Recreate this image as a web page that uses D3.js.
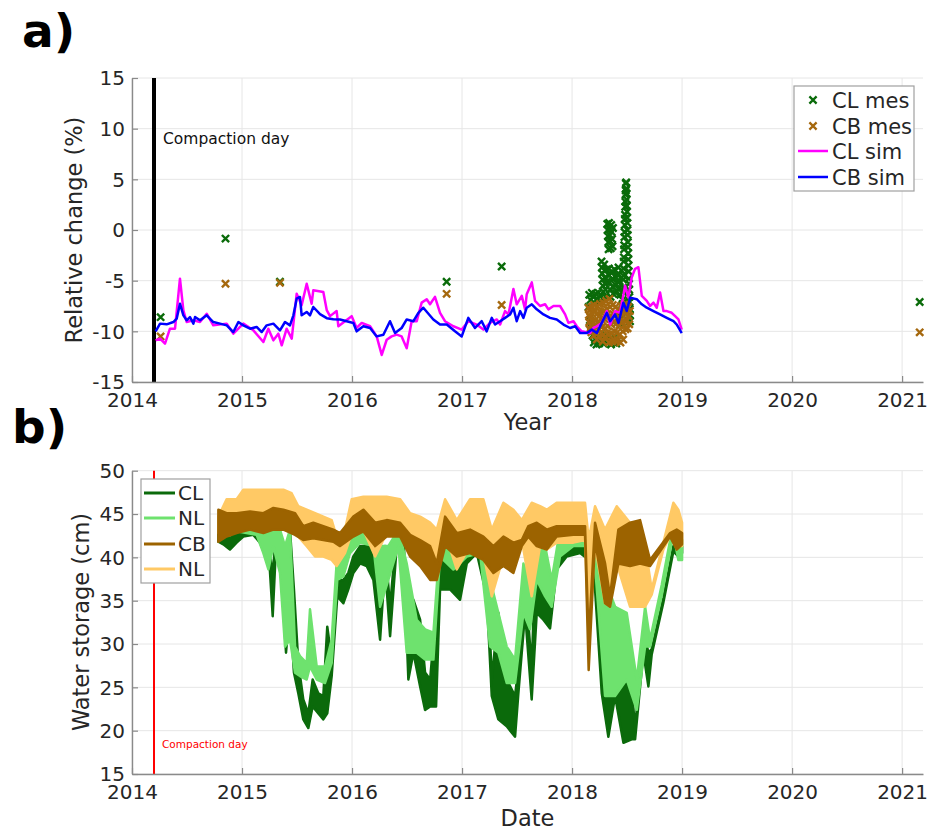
<!DOCTYPE html>
<html><head><meta charset="utf-8">
<script src="https://cdn.jsdelivr.net/npm/d3@7"></script>
<style>
body{margin:0;background:#fff}
svg{display:block}
text{font-family:"DejaVu Sans",Verdana,sans-serif}
</style>
</head><body>
<svg id="c" width="940" height="831"></svg>
<script>
// ---------------- DATA ----------------
const yearTicks = [2014,2015,2016,2017,2018,2019,2020,2021];
const relTicks = [-15,-10,-5,0,5,10,15];
const wsTicks = [15,20,25,30,35,40,45,50];
const compactionDate = 2014.2;

// panel a: measured relative change (campaigns)
const clMes = [[2014.26,-8.6],[2014.85,-0.85],[2015.345,-5.1],[2016.86,-5.1],[2017.36,-3.6],[2021.16,-7.1]];
const cbMes = [[2014.26,-10.5],[2014.85,-5.3],[2015.345,-5.2],[2016.86,-6.3],[2017.36,-7.4],[2021.16,-10.1]];

// panel a: measured relative change, continuous 2018 record
const clMes2018 = [
[2018.150,-7.6],[2018.156,-6.4],[2018.162,-8.9],[2018.168,-6.9],[2018.174,-9.6],
[2018.180,-6.2],[2018.186,-10.4],[2018.192,-6.6],[2018.198,-11.1],[2018.204,-7.2],
[2018.210,-10.8],[2018.216,-6.3],[2018.222,-11.3],[2018.228,-6.8],[2018.234,-10.6],
[2018.240,-6.2],[2018.246,-11.2],[2018.252,-7.0],[2018.258,-10.9],[2018.264,-6.5],
[2018.268,-3.1],[2018.271,-3.7],[2018.274,-4.3],[2018.277,-4.9],[2018.280,-5.5],[2018.283,-6.1],
[2018.285,-6.8],[2018.286,-11.2],[2018.289,-10.6],[2018.292,-3.4],[2018.295,-4.0],[2018.298,-4.7],
[2018.301,-5.3],[2018.304,-5.9],[2018.306,-6.6],[2018.307,-11.0],[2018.310,-10.4],[2018.313,-3.9],[2018.316,-5.1],
[2018.320,0.6],[2018.323,0.0],[2018.326,-0.6],[2018.329,-1.2],[2018.332,-1.9],[2018.336,0.7],
[2018.340,0.1],[2018.344,-0.5],[2018.348,-1.1],[2018.352,-1.8],[2018.356,0.5],[2018.360,-0.2],
[2018.364,-0.9],[2018.368,-1.6],[2018.372,0.2],
[2018.334,-3.8],[2018.338,-4.5],[2018.342,-5.2],[2018.346,-5.9],[2018.350,-6.6],[2018.354,-11.3],
[2018.358,-10.7],[2018.362,-4.1],[2018.366,-4.8],[2018.370,-5.6],[2018.374,-6.3],[2018.378,-11.1],
[2018.382,-10.5],[2018.386,-3.9],[2018.390,-4.6],[2018.394,-5.4],[2018.398,-6.2],[2018.402,-11.2],
[2018.406,-10.6],[2018.410,-4.4],[2018.414,-5.1],[2018.418,-5.8],
[2018.422,-3.7],[2018.426,-4.4],[2018.430,-5.0],[2018.434,-5.7],[2018.438,-6.4],[2018.442,-9.3],
[2018.446,-8.7],[2018.450,-4.0],
[2018.455,-9.1],[2018.456,-8.4],[2018.458,-8.0],[2018.459,-7.3],[2018.461,-6.9],[2018.462,-6.1],
[2018.464,-5.7],[2018.465,-4.9],[2018.467,-4.5],[2018.468,-3.8],[2018.470,-3.1],[2018.471,-2.7],
[2018.473,-1.9],[2018.474,-1.5],[2018.476,-0.7],[2018.477,-0.2],[2018.479,0.5],[2018.480,1.1],
[2018.482,1.5],[2018.483,2.3],[2018.485,2.8],[2018.486,3.5],[2018.488,3.9],[2018.489,4.6],
[2018.492,4.7],[2018.494,4.1],[2018.495,3.6],[2018.497,3.0],[2018.498,2.4],[2018.500,1.8],
[2018.501,1.2],[2018.503,0.7],[2018.504,0.0],[2018.506,-0.5],[2018.507,-1.2],[2018.509,-1.7],
[2018.510,-2.3],[2018.512,-2.9],[2018.513,-3.5],[2018.515,-4.1],[2018.516,-4.8],[2018.518,-5.3],
[2018.519,-5.9],[2018.521,-6.6],[2018.522,-7.1],[2018.524,-7.8],[2018.525,-8.4],[2018.527,-9.0]
];
const cbMes2018 = [
[2018.150,-7.7],[2018.153,-8.4],[2018.156,-9.1],[2018.159,-9.8],[2018.163,-7.9],[2018.167,-8.6],[2018.171,-9.4],[2018.175,-10.1],
[2018.180,-7.6],[2018.184,-8.3],[2018.188,-9.0],[2018.192,-9.7],[2018.196,-10.4],[2018.200,-7.4],[2018.205,-8.1],[2018.210,-8.9],
[2018.215,-9.6],[2018.220,-10.3],[2018.225,-10.8],[2018.230,-7.5],[2018.235,-8.2],[2018.240,-9.0],[2018.245,-9.8],[2018.250,-10.5],
[2018.255,-7.3],[2018.260,-8.1],[2018.265,-8.8],[2018.270,-9.6],[2018.275,-10.4],[2018.280,-11.0],[2018.285,-7.2],[2018.290,-8.0],
[2018.295,-8.8],[2018.300,-9.7],[2018.305,-10.5],[2018.310,-7.0],[2018.315,-7.8],[2018.320,-8.6],[2018.325,-9.5],[2018.330,-10.3],
[2018.335,-11.1],[2018.340,-6.8],[2018.345,-7.6],[2018.350,-8.5],[2018.355,-9.3],[2018.360,-10.2],[2018.365,-11.0],[2018.370,-7.4],
[2018.375,-8.3],[2018.380,-9.1],[2018.385,-10.0],[2018.390,-10.9],[2018.395,-7.6],[2018.400,-8.4],[2018.405,-9.2],[2018.410,-10.1],
[2018.415,-10.9],[2018.420,-7.8],[2018.425,-8.6],[2018.430,-9.4],[2018.435,-10.3],[2018.440,-11.1],[2018.445,-7.5],[2018.450,-8.3],
[2018.455,-9.1],[2018.460,-10.0],[2018.465,-10.8],[2018.470,-7.4],[2018.475,-8.2],[2018.480,-9.0],[2018.485,-9.8],[2018.490,-7.3],
[2018.495,-8.1],[2018.500,-8.9],[2018.505,-9.7],[2018.510,-7.6],[2018.515,-8.5],[2018.520,-9.3],[2018.525,-8.0]
];

// panel a: simulated relative change
const clSim = [
[2014.215,-10.89],[2014.255,-10.72],[2014.30,-11.22],[2014.345,-9.74],[2014.391,-9.74],[2014.436,-4.8],
[2014.467,-7.93],[2014.497,-9.08],[2014.558,-8.91],[2014.618,-9.08],[2014.679,-8.26],[2014.739,-9.41],
[2014.861,-9.24],[2014.921,-10.23],[2015.012,-9.24],[2015.103,-9.9],[2015.194,-11.05],[2015.239,-9.74],
[2015.285,-10.89],[2015.33,-10.23],[2015.361,-11.38],[2015.406,-9.74],[2015.452,-10.72],[2015.497,-6.28],
[2015.542,-7.43],[2015.588,-5.3],[2015.633,-7.27],[2015.648,-5.95],[2015.739,-6.12],[2015.77,-7.9],
[2015.80,-8.5],[2015.86,-8.0],[2015.876,-9.5],[2015.936,-9.0],[2015.997,-8.5],[2016.042,-9.67],
[2016.088,-9.17],[2016.164,-9.5],[2016.224,-10.5],[2016.27,-12.33],[2016.315,-10.83],[2016.36,-10.5],
[2016.406,-10.33],[2016.451,-10.5],[2016.497,-11.67],[2016.542,-9.0],[2016.588,-9.0],[2016.633,-7.17],
[2016.679,-6.83],[2016.709,-7.33],[2016.754,-6.6],[2016.80,-8.17],[2016.845,-9.0],[2016.921,-9.5],
[2016.997,-9.83],[2017.057,-9.0],[2017.133,-9.33],[2017.194,-9.83],[2017.255,-9.17],[2017.316,-8.83],
[2017.346,-9.33],[2017.391,-8.0],[2017.422,-8.33],[2017.467,-5.83],[2017.497,-7.33],[2017.543,-6.5],
[2017.573,-7.83],[2017.588,-6.33],[2017.634,-5.17],[2017.664,-7.0],[2017.709,-7.5],[2017.755,-7.33],
[2017.785,-7.83],[2017.831,-7.5],[2017.891,-7.5],[2017.937,-8.33],[2017.967,-9.17],[2018.013,-9.0],
[2018.043,-9.5],[2018.088,-10.0],[2018.164,-10.17],[2018.194,-9.67],[2018.225,-9.5],[2018.27,-9.17],
[2018.316,-8.0],[2018.346,-9.33],[2018.391,-8.0],[2018.437,-8.17],[2018.482,-5.5],[2018.512,-6.67],
[2018.543,-4.67],[2018.573,-3.83],[2018.603,-3.67],[2018.634,-6.5],[2018.679,-7.0],[2018.709,-7.5],
[2018.74,-7.17],[2018.77,-7.67],[2018.80,-6.17],[2018.831,-8.0],[2018.861,-8.0],[2018.906,-8.17],
[2018.937,-8.5],[2018.967,-8.83],[2018.997,-9.83]
];
const cbSim = [
[2014.215,-10.0],[2014.255,-9.24],[2014.315,-9.31],[2014.376,-9.08],[2014.406,-8.75],[2014.436,-7.27],
[2014.467,-8.42],[2014.497,-8.91],[2014.527,-8.59],[2014.558,-9.24],[2014.573,-8.59],[2014.618,-8.91],
[2014.679,-8.42],[2014.739,-9.08],[2014.80,-9.24],[2014.861,-9.41],[2014.921,-10.07],[2014.967,-9.08],
[2015.012,-9.41],[2015.073,-9.74],[2015.133,-9.57],[2015.179,-10.07],[2015.224,-9.41],[2015.285,-9.24],
[2015.345,-9.9],[2015.391,-9.08],[2015.436,-9.41],[2015.467,-8.42],[2015.497,-6.78],[2015.527,-6.61],
[2015.542,-8.42],[2015.588,-8.09],[2015.618,-8.42],[2015.648,-7.6],[2015.709,-8.3],[2015.77,-8.7],
[2015.83,-8.8],[2015.891,-8.83],[2015.951,-9.0],[2016.012,-9.17],[2016.042,-10.0],[2016.103,-9.5],
[2016.164,-9.67],[2016.224,-10.5],[2016.285,-10.33],[2016.345,-9.0],[2016.391,-10.17],[2016.451,-9.67],
[2016.497,-8.83],[2016.558,-9.0],[2016.603,-8.17],[2016.648,-7.67],[2016.739,-8.83],[2016.80,-9.33],
[2016.861,-9.33],[2016.936,-10.0],[2016.997,-10.5],[2017.057,-8.67],[2017.118,-9.67],[2017.179,-9.0],
[2017.224,-10.0],[2017.27,-8.67],[2017.30,-9.33],[2017.346,-9.0],[2017.391,-8.67],[2017.437,-8.33],
[2017.467,-7.67],[2017.497,-9.0],[2017.528,-8.0],[2017.558,-8.67],[2017.588,-7.67],[2017.634,-7.33],
[2017.679,-7.83],[2017.74,-8.33],[2017.80,-8.67],[2017.861,-8.83],[2017.922,-9.33],[2017.982,-9.67],
[2018.028,-9.5],[2018.073,-10.17],[2018.134,-10.17],[2018.179,-9.83],[2018.225,-10.17],[2018.27,-9.17],
[2018.316,-8.17],[2018.346,-9.0],[2018.391,-8.33],[2018.422,-9.17],[2018.467,-7.17],[2018.497,-8.0],
[2018.528,-6.67],[2018.588,-6.83],[2018.634,-7.33],[2018.679,-7.67],[2018.74,-8.0],[2018.80,-8.33],
[2018.861,-8.67],[2018.922,-9.0],[2018.952,-9.33],[2018.997,-10.17]
];

// panel b: water storage (cm) as [date, daily min, daily max]
const wsCL = [
[2014.785,41.8,43.2],[2014.83,41.5,42.8],[2014.89,40.9,42.2],[2014.951,41.7,42.8],[2015.012,42.4,43.2],
[2015.103,42.6,43.2],[2015.163,41.7,42.6],[2015.209,40.3,41.3],[2015.24,41.3,43.2],[2015.279,33.2,37.4],
[2015.309,41.3,43.2],[2015.36,37.4,38.6],[2015.40,29.0,33.6],[2015.436,34.3,43.2],[2015.472,26.7,36.3],
[2015.512,24.3,27.8],[2015.557,21.3,23.6],[2015.603,20.3,22.0],[2015.642,22.8,25.9],[2015.694,22.0,24.3],
[2015.739,21.3,24.0],[2015.775,22.0,32.0],[2015.815,26.3,28.2],[2015.866,35.5,37.4],[2015.921,34.7,37.4],
[2015.966,36.3,38.2],[2016.012,38.2,40.1],[2016.073,39.3,41.3],[2016.133,39.0,41.3],[2016.194,37.4,42.0],
[2016.255,30.5,37.4],[2016.30,39.0,41.3],[2016.346,30.9,34.3],[2016.406,41.3,43.2],[2016.467,40.9,42.8],
[2016.512,25.9,29.3],[2016.558,29.0,35.1],[2016.619,25.1,32.8],[2016.664,22.4,26.7],[2016.71,22.8,25.9],
[2016.764,22.8,34.0],[2016.80,36.3,41.3],[2016.891,36.3,39.3],[2016.982,35.1,39.0],[2017.043,39.3,43.2],
[2017.134,40.5,43.2],[2017.225,35.5,40.1],[2017.27,24.0,25.9],[2017.33,21.3,33.6],[2017.406,20.5,25.9],
[2017.482,19.3,24.0],[2017.512,24.3,27.4],[2017.573,33.6,37.4],[2017.633,23.6,27.4],[2017.679,33.6,43.2],
[2017.739,32.8,41.3],[2017.80,31.8,34.3],[2017.86,38.6,40.1],[2017.951,40.1,41.7],[2018.073,40.5,42.4],
[2018.194,39.3,42.4],[2018.27,24.3,38.2],[2018.33,19.3,24.3],[2018.391,24.0,34.3],[2018.467,18.6,27.4],
[2018.542,19.0,25.1],[2018.573,19.0,20.2],[2018.648,29.0,31.7],[2018.694,25.1,29.0],[2018.724,28.8,29.4],
[2018.83,34.8,35.3],[2018.921,40.7,41.3],[2018.966,40.1,42.0],[2019.0,40.5,41.3]
];
const wsNLg = [
[2014.785,43.0,43.4],[2014.951,43.0,43.6],[2015.133,42.6,43.2],[2015.194,40.5,42.8],[2015.24,38.6,43.2],
[2015.285,41.3,43.2],[2015.345,38.2,43.2],[2015.391,29.7,41.3],[2015.436,30.5,43.2],[2015.482,26.7,29.7],
[2015.527,26.3,28.6],[2015.588,25.9,27.8],[2015.618,27.4,34.0],[2015.679,25.9,27.4],[2015.754,25.5,27.4],
[2015.815,27.8,30.5],[2015.866,37.4,40.5],[2015.921,37.8,40.1],[2015.982,40.5,42.4],[2016.073,41.7,43.2],
[2016.194,41.3,43.2],[2016.255,34.3,41.3],[2016.33,37.4,41.3],[2016.422,41.3,43.2],[2016.497,29.0,39.3],
[2016.588,29.0,32.8],[2016.664,28.2,31.7],[2016.74,28.2,31.3],[2016.80,40.1,42.0],[2016.921,38.6,42.0],
[2017.043,40.1,43.2],[2017.164,40.5,43.2],[2017.255,29.7,37.4],[2017.33,29.0,33.6],[2017.406,25.5,29.7],
[2017.482,25.5,28.2],[2017.558,33.6,39.3],[2017.618,31.7,37.4],[2017.679,37.4,43.2],[2017.755,35.5,41.3],
[2017.815,34.3,37.4],[2017.89,40.1,43.2],[2018.012,41.3,43.2],[2018.133,41.3,43.2],[2018.209,39.0,42.4],
[2018.30,24.0,37.4],[2018.391,24.0,34.3],[2018.497,25.9,33.6],[2018.588,22.4,25.9],[2018.664,29.7,34.3],
[2018.709,29.7,30.5],[2018.815,35.6,36.8],[2018.921,42.8,44.0],[2018.966,39.7,43.6],[2019.0,39.7,42.0]
];
const wsCB = [
[2014.785,41.8,45.5],[2014.86,42.4,45.1],[2014.951,42.8,45.1],[2015.073,43.2,45.3],[2015.194,42.8,45.1],
[2015.285,43.2,45.7],[2015.376,43.2,45.5],[2015.482,42.6,45.1],[2015.557,42.0,43.6],[2015.648,42.2,44.0],
[2015.739,42.0,43.6],[2015.83,41.8,43.2],[2015.891,41.3,42.8],[2016.012,42.4,44.7],[2016.103,43.0,45.5],
[2016.21,41.3,44.0],[2016.315,42.4,44.3],[2016.437,42.4,44.0],[2016.528,40.1,42.6],[2016.619,39.0,42.0],
[2016.71,37.4,41.3],[2016.77,37.4,39.3],[2016.846,41.3,44.7],[2016.952,40.1,42.8],[2017.073,40.5,43.2],
[2017.194,39.7,42.4],[2017.285,38.2,41.3],[2017.376,39.0,42.4],[2017.467,38.2,41.7],[2017.543,41.3,42.0],
[2017.603,42.4,43.6],[2017.679,41.3,44.0],[2017.77,40.9,43.2],[2017.86,42.4,43.6],[2018.012,42.6,43.6],
[2018.118,42.6,43.6],[2018.151,27.0,30.5],[2018.209,42.0,44.0],[2018.30,34.7,39.3],[2018.345,34.3,35.5],
[2018.421,39.3,43.2],[2018.527,39.0,44.0],[2018.618,39.3,44.3],[2018.709,39.0,39.7],[2018.891,42.4,42.8],
[2018.951,40.9,43.2],[2019.0,41.5,42.8]
];
const wsNLo = [
[2014.785,42.8,44.7],[2014.86,44.0,46.7],[2014.951,44.3,46.7],[2015.012,44.7,47.8],[2015.103,44.3,47.8],
[2015.194,44.7,47.8],[2015.285,44.3,47.8],[2015.376,44.7,47.8],[2015.451,44.0,47.4],[2015.512,42.4,45.9],
[2015.588,41.3,45.5],[2015.664,40.1,45.1],[2015.739,40.1,44.7],[2015.815,39.7,44.3],[2015.86,39.0,42.4],
[2015.936,40.5,43.2],[2015.997,42.8,46.7],[2016.103,43.2,47.0],[2016.21,40.1,47.0],[2016.315,42.8,47.0],
[2016.437,42.8,46.7],[2016.528,40.5,45.1],[2016.619,39.7,44.7],[2016.71,39.3,44.0],[2016.77,37.4,43.2],
[2016.846,42.8,46.7],[2016.952,38.6,44.3],[2017.073,41.3,46.7],[2017.194,40.5,46.7],[2017.27,35.5,43.2],
[2017.376,40.1,46.3],[2017.467,40.5,45.5],[2017.543,42.0,44.3],[2017.633,35.5,46.3],[2017.709,41.3,45.9],
[2017.77,40.9,45.5],[2017.86,41.7,46.3],[2018.012,41.7,46.3],[2018.118,42.0,46.3],[2018.151,30.5,42.0],
[2018.209,41.3,45.9],[2018.30,34.7,43.2],[2018.406,39.3,45.9],[2018.527,34.3,44.0],[2018.664,34.3,41.3],
[2018.724,35.7,36.3],[2018.83,40.9,41.7],[2018.921,43.2,46.3],[2018.966,41.3,45.5],[2019.0,41.3,44.0]
];

const legendA = ["CL mes","CB mes","CL sim","CB sim"];
const legendB = ["CL","NL","CB","NL"];

// ---------------- DRAW ----------------
const C = {clMes:"#0a6b0a", cbMes:"#a5680e", clSim:"#ff00ff", cbSim:"#0000ff",
           cl:"#0b6a0b", nlg:"#6ee26e", cb:"#9c6300", nlo:"#ffc965"};
const svg = d3.select("#c");
const x = d3.scaleLinear().domain([2014, 2021.19]).range([132, 923]);
const ya = d3.scaleLinear().domain([-15, 15]).range([382, 78]);
const yb = d3.scaleLinear().domain([15, 50]).range([774, 470.7]);
const X0 = 132, X1 = 923;
const tickCol = "#262626", gridCol = "#e6e6e6", axCol = "#8a8a8a";
const plainFmt = d => String(d);

function frame(y, ticks, top, bottom) {
  const g = svg.append("g");
  g.selectAll(".gx").data(yearTicks).join("line")
    .attr("x1", d => x(d)).attr("x2", d => x(d)).attr("y1", top).attr("y2", bottom)
    .attr("stroke", gridCol).attr("stroke-width", 1);
  g.selectAll(".gy").data(ticks).join("line")
    .attr("x1", X0).attr("x2", X1).attr("y1", d => y(d)).attr("y2", d => y(d))
    .attr("stroke", gridCol).attr("stroke-width", 1);
  return g;
}
function axes(y, ticks, bottom) {
  const gx = svg.append("g").attr("transform", `translate(0,${bottom})`)
    .call(d3.axisBottom(x).tickValues(yearTicks).tickFormat(plainFmt)
      .tickSizeInner(-6).tickSizeOuter(0).tickPadding(11));
  const gy = svg.append("g").attr("transform", `translate(${X0},0)`)
    .call(d3.axisLeft(y).tickValues(ticks).tickFormat(plainFmt)
      .tickSizeInner(-6).tickSizeOuter(0).tickPadding(7));
  [gx, gy].forEach(g => {
    g.select(".domain").attr("stroke", axCol).attr("stroke-width", 1.4);
    g.selectAll(".tick line").attr("stroke", axCol).attr("stroke-width", 1.2);
    g.selectAll(".tick text").attr("fill", tickCol).style("font-size", "20px")
      .style("font-family", "'DejaVu Sans', sans-serif");
  });
  gy.selectAll(".tick text").attr("dy", "0.34em");
}
const xMark = "M-3.6,-3.6L3.6,3.6M-3.6,3.6L3.6,-3.6";

// ===== panel a =====
frame(ya, relTicks, 78, 382);
svg.append("line").attr("x1", x(compactionDate)).attr("x2", x(compactionDate))
  .attr("y1", ya(15)).attr("y2", ya(-15)).attr("stroke", "#000").attr("stroke-width", 4);
svg.append("text").attr("x", x(compactionDate) + 9).attr("y", 144)
  .attr("fill", "#111").style("font-size", "15.5px").text("Compaction day");

function marks(data, col) {
  svg.append("g").selectAll("path").data(data).join("path")
    .attr("d", xMark).attr("transform", d => `translate(${x(d[0])},${ya(d[1])})`)
    .attr("fill", "none").attr("stroke", col).attr("stroke-width", 2.4);
}
marks(clMes.concat(clMes2018), C.clMes);
marks(cbMes.concat(cbMes2018), C.cbMes);

const lineA = d3.line().x(d => x(d[0])).y(d => ya(d[1]));
svg.append("path").datum(clSim).attr("d", lineA).attr("fill", "none")
  .attr("stroke", C.clSim).attr("stroke-width", 2.5).attr("stroke-linejoin", "round");
svg.append("path").datum(cbSim).attr("d", lineA).attr("fill", "none")
  .attr("stroke", C.cbSim).attr("stroke-width", 2.5).attr("stroke-linejoin", "round");
axes(ya, relTicks, 382);

// legend a
const la = svg.append("g");
la.append("rect").attr("x", 794).attr("y", 86).attr("width", 120).attr("height", 105)
  .attr("fill", "#fff").attr("stroke", "#a0a0a0").attr("stroke-width", 1.2);
const laY = [100, 126, 151, 177];
legendA.forEach((t, i) => {
  if (i < 2) {
    la.append("path").attr("d", xMark).attr("transform", `translate(813,${laY[i]})`)
      .attr("fill", "none").attr("stroke", i === 0 ? C.clMes : C.cbMes).attr("stroke-width", 2.3);
  } else {
    la.append("line").attr("x1", 798).attr("x2", 828).attr("y1", laY[i]).attr("y2", laY[i])
      .attr("stroke", i === 2 ? C.clSim : C.cbSim).attr("stroke-width", 2.5);
  }
  la.append("text").attr("x", 832).attr("y", laY[i] + 7.6).attr("fill", tickCol)
    .style("font-size", "21px").text(t);
});

svg.append("text").attr("x", (X0 + X1) / 2).attr("y", 430).attr("text-anchor", "middle")
  .attr("fill", tickCol).style("font-size", "22.5px").text("Year");
svg.append("text").attr("transform", "translate(82,230) rotate(-90)").attr("text-anchor", "middle")
  .attr("fill", tickCol).style("font-size", "22.5px").text("Relative change (%)");
svg.append("text").attr("x", 22).attr("y", 47).attr("fill", "#000")
  .style("font-size", "47px").style("font-weight", "bold").text("a)");

// ===== panel b =====
frame(yb, wsTicks, 470.7, 774);
svg.append("line").attr("x1", x(compactionDate)).attr("x2", x(compactionDate))
  .attr("y1", yb(50)).attr("y2", yb(15)).attr("stroke", "#ff0000").attr("stroke-width", 2);
svg.append("text").attr("x", x(compactionDate) + 8).attr("y", 748)
  .attr("fill", "#ff0000").style("font-size", "10.5px").text("Compaction day");

const areaB = d3.area().x(d => x(d[0])).y0(d => yb(d[1])).y1(d => yb(d[2]));
[[wsCL, C.cl], [wsNLg, C.nlg], [wsNLo, C.nlo], [wsCB, C.cb]].forEach(([data, col]) => {
  svg.append("path").datum(data).attr("d", areaB).attr("fill", col)
    .attr("stroke", col).attr("stroke-width", 2.5).attr("stroke-linejoin", "round");
});
axes(yb, wsTicks, 774);

// legend b
const lb = svg.append("g");
lb.append("rect").attr("x", 141).attr("y", 479).attr("width", 69).attr("height", 104)
  .attr("fill", "#fff").attr("stroke", "#a0a0a0").attr("stroke-width", 1.2);
const lbY = [493, 518, 544, 569];
const lbCol = [C.cl, C.nlg, C.cb, C.nlo];
legendB.forEach((t, i) => {
  lb.append("line").attr("x1", 144).attr("x2", 175).attr("y1", lbY[i]).attr("y2", lbY[i])
    .attr("stroke", lbCol[i]).attr("stroke-width", 3);
  lb.append("text").attr("x", 178).attr("y", lbY[i] + 7.3).attr("fill", tickCol)
    .style("font-size", "20px").text(t);
});

svg.append("text").attr("x", (X0 + X1) / 2).attr("y", 826).attr("text-anchor", "middle")
  .attr("fill", tickCol).style("font-size", "22.5px").text("Date");
svg.append("text").attr("transform", "translate(89,622) rotate(-90)").attr("text-anchor", "middle")
  .attr("fill", tickCol).style("font-size", "22.5px").text("Water storage (cm)");
svg.append("text").attr("x", 12).attr("y", 443).attr("fill", "#000")
  .style("font-size", "47px").style("font-weight", "bold").text("b)");
</script>
</body></html>
